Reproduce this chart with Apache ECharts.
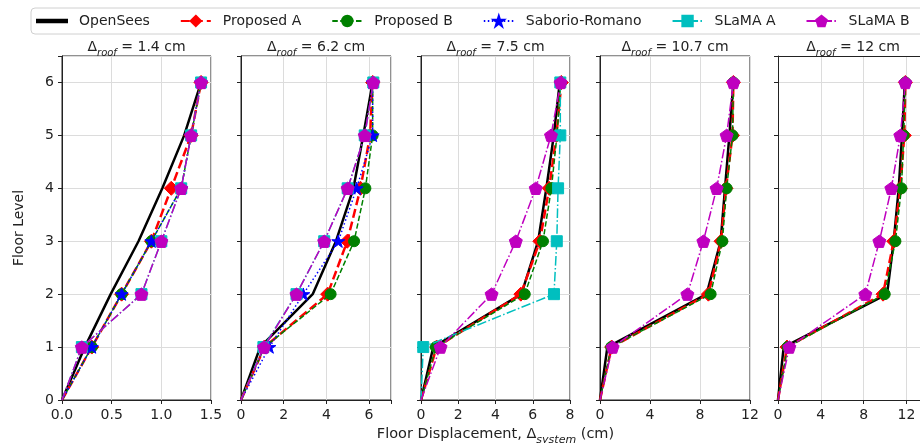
<!DOCTYPE html>
<html><head><meta charset="utf-8">
<script src="https://cdn.jsdelivr.net/npm/echarts@6/dist/echarts.min.js"></script>
<style>html,body{margin:0;padding:0;background:#fff}#c{width:920px;height:443px}</style>
</head><body><div id="c"></div>
<script>
// ---- data ----
const floors = [0, 1, 2, 3, 4, 5, 6];
const roofDrifts = ['1.4', '6.2', '7.5', '10.7', '12'];
const xMax = [1.5, 7.03, 8, 12, 13.36];
const xInterval = [0.5, 2, 2, 4, 4];

const openSees = [
  [0, 0.23, 0.49, 0.77, 1.01, 1.23, 1.40],
  [0, 0.90, 3.36, 4.45, 5.27, 5.73, 6.17],
  [0, 0.66, 5.39, 6.29, 6.73, 7.13, 7.45],
  [0, 0.59, 8.53, 9.65, 10.0, 10.35, 10.67],
  [0, 0.53, 10.19, 10.81, 11.28, 11.59, 11.85]
];
const proposedA = [
  [0, 0.30, 0.60, 0.90, 1.10, 1.30, 1.40],
  [0, 1.10, 4.06, 4.98, 5.60, 6.05, 6.17],
  [0, 0.84, 5.36, 6.38, 6.88, 7.27, 7.54],
  [0, 0.93, 8.67, 9.68, 10.08, 10.60, 10.67],
  [0, 0.84, 9.81, 10.81, 11.43, 11.80, 11.90]
];
const proposedB = [
  [0, 0.30, 0.60, 0.90, 1.20, 1.30, 1.40],
  [0, 1.10, 4.20, 5.30, 5.83, 6.17, 6.17],
  [0, 0.80, 5.57, 6.55, 7.00, 7.30, 7.50],
  [0, 0.90, 8.85, 9.79, 10.13, 10.60, 10.67],
  [0, 0.90, 9.97, 10.97, 11.53, 11.74, 11.90]
];
const saborioRomano = [
  [0, 0.30, 0.60, 0.90, 1.20, 1.30, 1.40],
  [0, 1.33, 2.92, 4.56, 5.42, 6.17, 6.17],
  null, null, null
];
const slamaA = [
  [0, 0.20, 0.80, 1.00, 1.20, 1.30, 1.40],
  [0, 1.05, 2.60, 3.90, 5.00, 5.80, 6.20],
  [0, 0.12, 7.14, 7.29, 7.36, 7.48, 7.48],
  null, null
];
const slamaB = [
  [0, 0.20, 0.80, 1.00, 1.20, 1.30, 1.40],
  [0, 1.08, 2.60, 3.90, 5.00, 5.80, 6.20],
  [0, 1.05, 3.79, 5.09, 6.16, 6.98, 7.50],
  [0, 1.01, 6.99, 8.27, 9.33, 10.13, 10.67],
  [0, 1.06, 8.16, 9.47, 10.59, 11.43, 11.90]
];

// ---- styles ----
const STAR = 'path://M0,-100 L22.5,-30.9 L95.1,-30.9 L36.3,11.8 L58.8,80.9 L0,38.2 L-58.8,80.9 L-36.3,11.8 L-95.1,-30.9 L-22.5,-30.9 Z';
const PENT = 'path://M0,-100 L95.1,-30.9 L58.8,80.9 L-58.8,80.9 L-95.1,-30.9 Z';
const LINE_ICON = 'path://M0,0 H120 V10 H0 Z';
const seriesDefs = [
  {name: 'OpenSees', data: openSees, color: '#000000', width: 2.5, type: 'solid', symbol: 'none', size: 0},
  {name: 'Proposed A', data: proposedA, color: '#ff0000', width: 2.5, type: [9, 4], symbol: 'diamond', size: 14},
  {name: 'Proposed B', data: proposedB, color: '#008000', width: 1.5, type: [5.5, 2.4], symbol: 'circle', size: 11},
  {name: 'Saborio-Romano', data: saborioRomano, color: '#0000ff', width: 1.5, type: [1.5, 2.5], symbol: STAR, size: 13},
  {name: 'SLaMA A', data: slamaA, color: '#00bfbf', width: 1.5, type: [9.6, 2.4, 1.5, 2.4], symbol: 'rect', size: 11},
  {name: 'SLaMA B', data: slamaB, color: '#bf00bf', width: 1.5, type: [9.6, 2.4, 1.5, 2.4], symbol: PENT, size: 13}
];

const lefts = [62, 241, 421, 600, 778];
const widths = [149, 150, 149, 150, 143];
const TOP = 56, HEIGHT = 344;
const FONT = 'DejaVu Sans';

const richSub = {
  a: {fontSize: 14, fontFamily: FONT, fontWeight: 'normal', color: '#222', lineHeight: 16},
  s: {fontSize: 10, fontFamily: FONT, fontWeight: 'normal', fontStyle: 'italic', color: '#222', lineHeight: 22, verticalAlign: 'bottom'}
};
const richSubX = {
  a: {fontSize: 14.5, fontFamily: FONT, fontWeight: 'normal', color: '#222', lineHeight: 16},
  s: {fontSize: 11, fontFamily: FONT, fontWeight: 'normal', fontStyle: 'italic', color: '#222', lineHeight: 22, verticalAlign: 'bottom'}
};

const grids = [], xAxes = [], yAxes = [], titles = [], series = [];
for (let i = 0; i < 5; i++) {
  const last = i === 4;
  grids.push({left: lefts[i], top: TOP, width: widths[i], height: HEIGHT, show: !last,
    outerBoundsMode: 'none',
    borderColor: '#222', borderWidth: 1, backgroundColor: 'transparent', containLabel: false});
  const iv = xInterval[i];
  xAxes.push({
    gridIndex: i, type: 'value', min: 0, max: xMax[i], interval: iv,
    axisLine: {show: true, lineStyle: {color: '#222', width: 1}},
    axisTick: {show: true, inside: false, length: 4, lineStyle: {color: '#222'}},
    axisLabel: {fontSize: 14, fontFamily: FONT, color: '#222', margin: 8,
      formatter: v => (Math.abs(v / iv - Math.round(v / iv)) < 1e-6 ? (i === 0 ? v.toFixed(1) : String(Math.round(v))) : '')},
    splitLine: {show: true, lineStyle: {color: '#dcdcdc', width: 1}},
    name: i === 2 ? '{a|Floor Displacement, Δ}{s|system}{a| (cm)}' : '',
    nameLocation: 'middle', nameGap: 21,
    nameTextStyle: {rich: richSubX}
  });
  yAxes.push({
    gridIndex: i, type: 'value', min: 0, max: 6.5, interval: 1,
    axisLine: {show: true, lineStyle: {color: '#222', width: 1}},
    axisTick: {show: true, inside: false, length: 4, lineStyle: {color: '#222'}},
    axisLabel: {show: i === 0, fontSize: 14, fontFamily: FONT, color: '#222', margin: 8,
      formatter: v => (Number.isInteger(v) ? String(v) : '')},
    splitLine: {show: true, lineStyle: {color: '#dcdcdc', width: 1}},
    name: i === 0 ? 'Floor Level' : '', nameLocation: 'middle', nameGap: 36,
    nameTextStyle: {fontSize: 14, fontFamily: FONT, color: '#222'}
  });
  titles.push({
    left: lefts[i] + (last ? 75 : widths[i] / 2), top: 36, textAlign: 'center', padding: 0,
    text: '{a|Δ}{s|roof}{a| = ' + roofDrifts[i] + ' cm}',
    textStyle: {fontWeight: 'normal', rich: richSub}
  });
  seriesDefs.forEach((d, si) => {
    const vals = d.data[i];
    if (!vals) return;
    series.push({
      type: 'line', name: d.name, xAxisIndex: i, yAxisIndex: i,
      data: floors.map((f, k) => (k === 0 ? {value: [vals[k], f], symbol: 'none'} : [vals[k], f])),
      symbol: d.symbol, symbolSize: d.size, symbolKeepAspect: true, showSymbol: d.symbol !== 'none',
      lineStyle: {color: d.color, width: d.width, type: d.type},
      itemStyle: {color: d.color, borderColor: d.color, borderWidth: 1},
      clip: true, z: 2 + si, animation: false, emphasis: {disabled: true}
    });
  });
}
// top frame line for the last (cut-off) panel
xAxes.push({
  gridIndex: 4, type: 'value', position: 'top', min: 0, max: xMax[4],
  axisLine: {show: true, onZero: false, lineStyle: {color: '#222', width: 1}},
  axisTick: {show: false}, axisLabel: {show: false}, splitLine: {show: false}
});

const chart = echarts.init(document.getElementById('c'), null, {renderer: 'canvas'});
chart.setOption({
  backgroundColor: '#ffffff',
  animation: false,
  title: titles,
  legend: {
    data: seriesDefs.map(d => (d.symbol === 'none' ? {name: d.name, icon: LINE_ICON} : {name: d.name})),
    left: 31, top: 8, width: 1200, orient: 'horizontal',
    itemWidth: 30, itemHeight: 13, itemGap: 30, symbolKeepAspect: true,
    borderColor: '#d0d0d0', borderWidth: 1, borderRadius: 4,
    padding: [6, 40, 6, 5], backgroundColor: '#fff',
    textStyle: {fontSize: 14, fontFamily: FONT, color: '#222', padding: [0, 0, 0, 7]}
  },
  grid: grids, xAxis: xAxes, yAxis: yAxes, series: series
});
</script></body></html>
